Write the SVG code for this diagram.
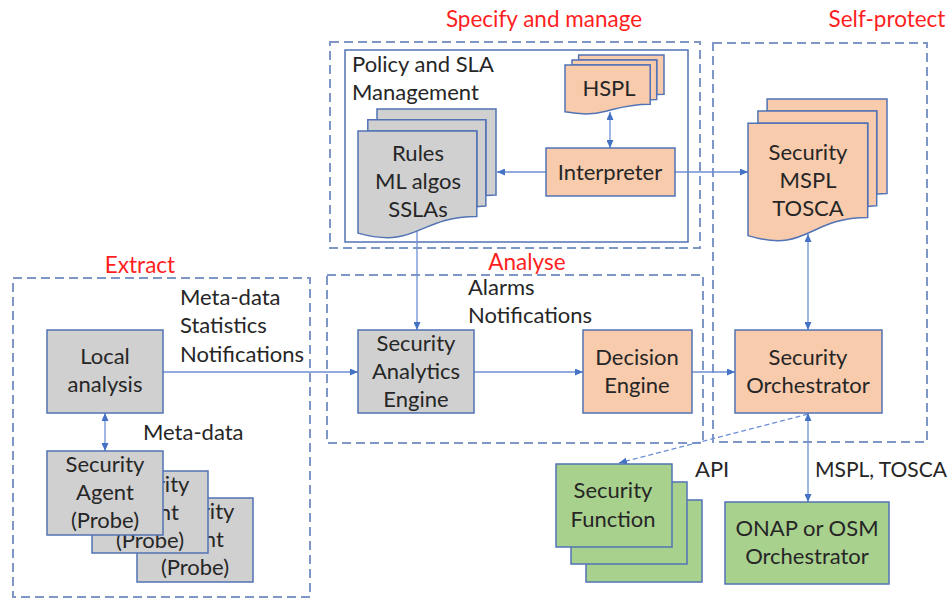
<svg xmlns="http://www.w3.org/2000/svg" width="951" height="599" viewBox="0 0 951 599">
  <style>
    .zone { fill: none; stroke: #7f97c7; stroke-width: 2; stroke-dasharray: 9 5; }
    .frame { fill: none; stroke: #5273b5; stroke-width: 1.5; }
    .box { stroke: #5273b5; stroke-width: 1.5; }
    .gray { fill: #d0d0d0; }
    .orange { fill: #f8cbad; }
    .green { fill: #a9d18e; }
    .t { font-family: Lato, "Liberation Sans", sans-serif; font-size: 22px; fill: #262626; }
    .c { text-anchor: middle; }
    .small { font-size: 21px; }
    .title { font-family: Lato, "Liberation Sans", sans-serif; font-size: 22.5px; fill: #ff1f1f; }
    .link { fill: none; stroke: #6d8fd4; stroke-width: 1.3; }
    .dash { stroke-dasharray: 5 3; }
  </style>
  <defs>
    <marker id="arrow" viewBox="0 0 8 7" refX="8" refY="3.5" markerWidth="8" markerHeight="7" markerUnits="userSpaceOnUse" orient="auto-start-reverse">
      <path d="M0,0 L8,3.5 L0,7 Z" fill="#4472c4"/>
    </marker>
    <!-- visible parts of the stacked agent cards -->
    <clipPath id="agent2-visible">
      <rect x="163" y="471" width="46" height="83"/>
      <rect x="92" y="535" width="117" height="19"/>
    </clipPath>
    <clipPath id="agent3-visible">
      <rect x="208" y="498" width="46" height="85"/>
      <rect x="137" y="553" width="117" height="30"/>
    </clipPath>
  </defs>

  <rect width="951" height="599" fill="#ffffff"/>

  <!-- zones -->
  <g id="zones">
    <rect class="zone" x="330" y="42" width="370" height="206"/>
    <rect class="frame" x="345" y="50" width="343" height="192"/>
    <rect class="zone" x="713" y="43" width="214" height="399"/>
    <rect class="zone" x="327" y="275" width="376" height="168"/>
    <rect class="zone" x="13" y="278" width="297" height="319"/>
    <text class="title c" x="544" y="27">Specify and manage</text>
    <text class="title c" x="887" y="27">Self-protect</text>
    <text class="title c" x="140" y="273">Extract</text>
    <text class="title c" x="527" y="270">Analyse</text>
    <text class="t" x="352" y="72">Policy and SLA</text>
    <text class="t" x="352" y="100">Management</text>
  </g>

  <!-- connectors -->
  <g id="connectors">
    <path class="link" d="M546,172 H497" marker-end="url(#arrow)"/>
    <path class="link" d="M675,172 H748" marker-end="url(#arrow)"/>
    <path class="link" d="M610,112 V148" marker-start="url(#arrow)" marker-end="url(#arrow)"/>
    <path class="link" d="M417,231 V330" marker-end="url(#arrow)"/>
    <path class="link" d="M163,372 H358" marker-end="url(#arrow)"/>
    <path class="link" d="M474,372 H583" marker-end="url(#arrow)"/>
    <path class="link" d="M692,372 H735" marker-end="url(#arrow)"/>
    <path class="link" d="M808,234 V330" marker-start="url(#arrow)" marker-end="url(#arrow)"/>
    <path class="link" d="M105,413 V451" marker-start="url(#arrow)" marker-end="url(#arrow)"/>
    <path class="link dash" d="M808,414 L619,463" marker-end="url(#arrow)"/>
    <path class="link" d="M808,413 V502" marker-start="url(#arrow)" marker-end="url(#arrow)"/>
  </g>

  <!-- labels on connectors -->
  <g id="labels">
    <text class="t" x="180" y="305">Meta-data</text>
    <text class="t" x="180" y="333">Statistics</text>
    <text class="t" x="180" y="362">Notifications</text>
    <text class="t" x="143" y="440">Meta-data</text>
    <text class="t" x="468" y="295">Alarms</text>
    <text class="t" x="468" y="323">Notifications</text>
    <text class="t" x="695" y="477">API</text>
    <text class="t small" x="815" y="477">MSPL, TOSCA</text>
  </g>

  <g id="hspl">
    <path class="box orange" d="M578.6,60 L578.6,55 L664,55 L664,94.3 C660.3,94.3 656.7,94.5 656.7,94.5 L656.7,60 Z"/>
    <path class="box orange" d="M572,65 L572,60 L656.7,60 L656.7,99.4 C653.4,99.4 650.2,99.7 650.2,99.7 L650.2,65 Z"/>
    <path class="box orange" d="M565,111.8 C607.6,119.3 607.6,104.2 650.2,104.2 L650.2,65 L565,65 Z"/>
    <text class="t c" x="609" y="96">HSPL</text>
  </g>

  <g id="interpreter">
    <rect class="box orange" x="546" y="148" width="129" height="48"/>
    <text class="t c" x="610" y="180">Interpreter</text>
  </g>

  <g id="rules">
    <path class="box gray" d="M377,119.8 L377,109 L496,109 L496,195 C491,195 485.8,195.4 485.8,195.4 L485.8,119.8 Z"/>
    <path class="box gray" d="M367.8,130.9 L367.8,119.8 L485.8,119.8 L485.8,206.1 C481.3,206.1 476.8,206.7 476.8,206.7 L476.8,130.9 Z"/>
    <path class="box gray" d="M358,233.1 C417.4,249.6 417.4,216.6 476.8,216.6 L476.8,130.9 L358,130.9 Z"/>
    <text class="t c" x="418" y="161">Rules</text>
    <text class="t c" x="418" y="189">ML algos</text>
    <text class="t c" x="418" y="217">SSLAs</text>
  </g>

  <g id="security-policies">
    <path class="box orange" d="M767.1,110.9 L767.1,99 L887,99 L887,193.6 C881.9,193.6 876.7,194.1 876.7,194.1 L876.7,110.9 Z"/>
    <path class="box orange" d="M757.9,123.2 L757.9,110.9 L876.7,110.9 L876.7,205.8 C872.2,205.8 867.7,206.5 867.7,206.5 L867.7,123.2 Z"/>
    <path class="box orange" d="M748,235.6 C807.8,253.8 807.8,217.5 867.7,217.5 L867.7,123.2 L748,123.2 Z"/>
    <text class="t c" x="808" y="160">Security</text>
    <text class="t c" x="808" y="188">MSPL</text>
    <text class="t c" x="808" y="216">TOSCA</text>
  </g>

  <g id="local-analysis">
    <rect class="box gray" x="47" y="330" width="116" height="83"/>
    <text class="t c" x="105" y="364">Local</text>
    <text class="t c" x="105" y="392">analysis</text>
  </g>

  <g id="security-agents">
    <rect class="box gray" x="137" y="498" width="116" height="84"/>
    <g clip-path="url(#agent3-visible)">
      <text class="t c" x="195" y="519">Security</text>
      <text class="t c" x="195" y="547">Agent</text>
      <text class="t c" x="195" y="575">(Probe)</text>
    </g>
    <rect class="box gray" x="92" y="471" width="116" height="82"/>
    <g clip-path="url(#agent2-visible)">
      <text class="t c" x="150" y="492">Security</text>
      <text class="t c" x="150" y="520">Agent</text>
      <text class="t c" x="150" y="548">(Probe)</text>
    </g>
    <rect class="box gray" x="47" y="451" width="116" height="84"/>
    <text class="t c" x="105" y="472">Security</text>
    <text class="t c" x="105" y="500">Agent</text>
    <text class="t c" x="105" y="528">(Probe)</text>
  </g>

  <g id="analytics-engine">
    <rect class="box gray" x="358" y="330" width="116" height="83"/>
    <text class="t c" x="416" y="351">Security</text>
    <text class="t c" x="416" y="379">Analytics</text>
    <text class="t c" x="416" y="407">Engine</text>
  </g>

  <g id="decision-engine">
    <rect class="box orange" x="583" y="330" width="109" height="83"/>
    <text class="t c" x="637" y="365">Decision</text>
    <text class="t c" x="637" y="393">Engine</text>
  </g>

  <g id="security-orchestrator">
    <rect class="box orange" x="735" y="330" width="147" height="83"/>
    <text class="t c" x="808" y="365">Security</text>
    <text class="t c" x="808" y="393">Orchestrator</text>
  </g>

  <g id="security-functions">
    <rect class="box green" x="586" y="500" width="116" height="82"/>
    <rect class="box green" x="571" y="482" width="116" height="82"/>
    <rect class="box green" x="556" y="464" width="116" height="83"/>
    <text class="t c" x="613" y="498">Security</text>
    <text class="t c" x="613" y="527">Function</text>
  </g>

  <g id="onap-osm">
    <rect class="box green" x="725" y="502" width="164" height="82"/>
    <text class="t c" x="807" y="536">ONAP or OSM</text>
    <text class="t c" x="807" y="564">Orchestrator</text>
  </g>
</svg>
